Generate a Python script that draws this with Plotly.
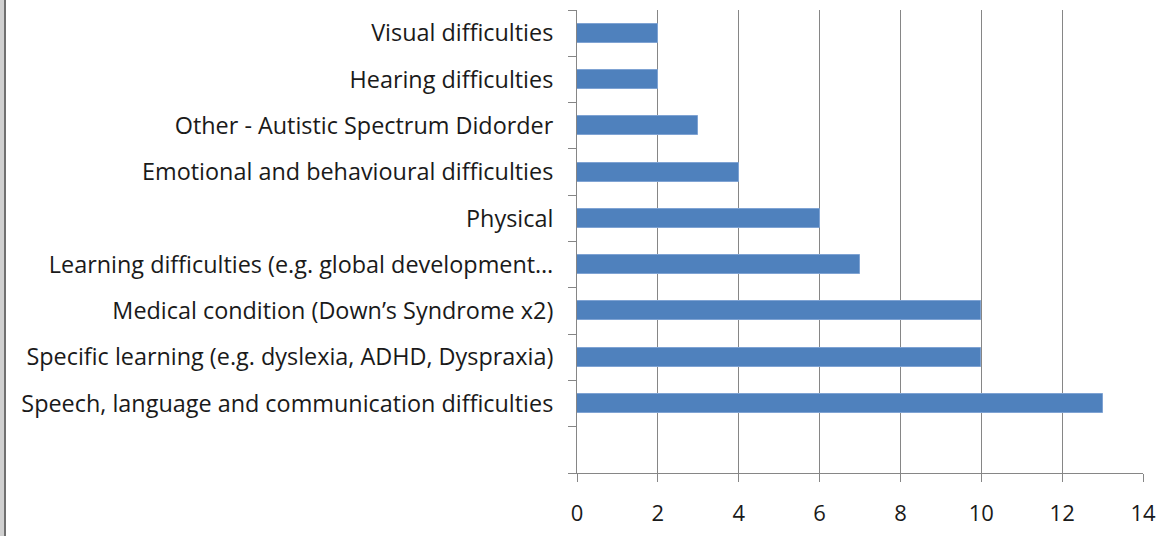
import plotly.graph_objects as go

categories = [
    "Speech, language and communication difficulties",
    "Specific learning (e.g. dyslexia, ADHD, Dyspraxia)",
    "Medical condition (Down\u2019s Syndrome x2)",
    "Learning difficulties (e.g. global development\u2026",
    "Physical",
    "Emotional and behavioural difficulties",
    "Other - Autistic Spectrum Didorder",
    "Hearing difficulties",
    "Visual difficulties",
]
values = [13, 10, 10, 7, 6, 4, 3, 2, 2]
x_ticks = [0, 2, 4, 6, 8, 10, 12, 14]

positions = list(range(1, len(categories) + 1))  # slot 0 is an empty category

W, H = 1162, 536
ML, MR, MT, MB = 577, 19, 10, 63
FONT = "Open Sans"
GRAY = "#868686"

fig = go.Figure(go.Bar(
    x=values, y=positions, orientation="h",
    marker=dict(color="#4F81BD", line=dict(color="#7FA3D3", width=1)),
    width=0.41,
))

fig.update_layout(
    width=W, height=H,
    margin=dict(l=ML, r=MR, t=MT, b=MB, autoexpand=False),
    plot_bgcolor="white", paper_bgcolor="white",
    showlegend=False,
    font=dict(family=FONT, size=20, color="#1a1a1a"),
    xaxis=dict(
        range=[0, 14], tickvals=x_ticks, showgrid=True, gridcolor=GRAY, gridwidth=1,
        showline=True, linecolor=GRAY, linewidth=1, automargin=False,
        ticks="outside", ticklen=8, tickcolor=GRAY, zeroline=False,
        tickfont=dict(family=FONT, size=22, color="#1a1a1a"),
        ticklabelstandoff=13,
    ),
    yaxis=dict(
        range=[-0.5, len(categories) + 0.5], tickvals=positions, ticktext=categories,
        showgrid=False, zeroline=False, automargin=False,
        showline=True, linecolor=GRAY, linewidth=1, ticks="",
        minor=dict(ticks="outside", tick0=0.5, dtick=1, ticklen=8, tickcolor=GRAY, showgrid=False),
        tickfont=dict(family=FONT, size=23.4, color="#1a1a1a"),
        ticklabelstandoff=18,
    ),
    bargap=0,
)

pw = W - ML - MR
ph = H - MT - MB
# left window border decoration
fig.add_shape(type="rect", xref="paper", yref="paper",
              x0=-ML / pw, x1=-(ML - 4) / pw, y0=-MB / ph, y1=1 + MT / ph,
              fillcolor="#d0d0d0", line=dict(width=0), layer="above")
fig.add_shape(type="line", xref="paper", yref="paper",
              x0=-(ML - 5) / pw, x1=-(ML - 5) / pw, y0=-MB / ph, y1=1 + MT / ph,
              line=dict(color="#707070", width=2))

fig.write_html("out.html", config={"displayModeBar": False},
               post_script="document.body.style.margin='0';")
